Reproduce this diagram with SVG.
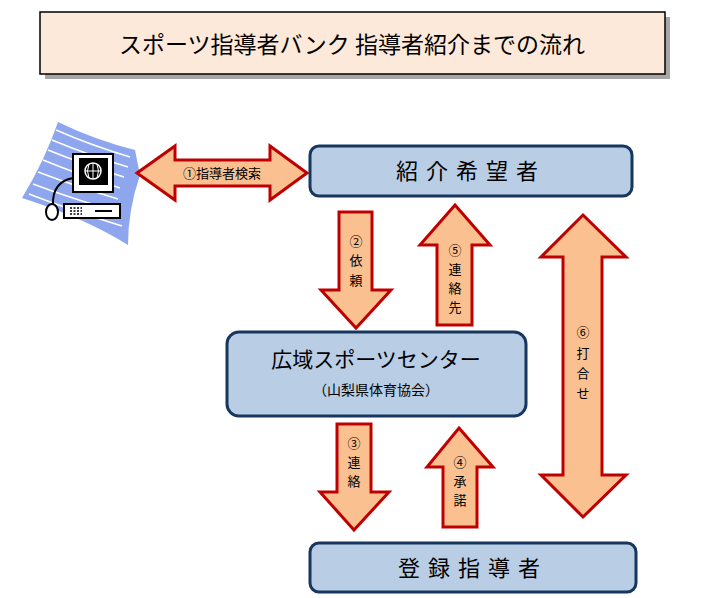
<svg xmlns="http://www.w3.org/2000/svg" width="710" height="598" viewBox="0 0 710 598">
<defs>
<style>
.box{fill:#b9cde5;stroke:#17375e;stroke-width:3}
.arr{fill:#fac090;stroke:#c00000;stroke-width:3;stroke-linejoin:miter}
text{font-family:"Noto Sans CJK JP","Noto Sans CJK SC",sans-serif;fill:#000}
.lbl{font-size:13px;text-anchor:middle}
.big{font-size:22px;text-anchor:middle}
</style>
</defs>
<rect width="710" height="598" fill="#fff"/>
<g id="title">
<rect x="45" y="17" width="625" height="62" fill="#a6a6a6"/>
<rect x="40" y="12" width="625" height="62" fill="#fde9d9" stroke="#000" stroke-width="1.5"/>
<text x="352" y="53" font-size="23" text-anchor="middle">スポーツ指導者バンク 指導者紹介までの流れ</text>
</g>
<g id="computer">
<path d="M58,122 Q95,140 135,150 L140,175 Q128,210 128,245 Q85,218 22,198 Q45,160 58,122Z" fill="#8ea6ee"/>
<g stroke="#fff" stroke-width="1.5" fill="none">
<path d="M56,130 Q90,145 130,157"/><path d="M52,140 Q88,155 128,167"/><path d="M48,150 Q85,165 124,177"/><path d="M43,160 Q80,175 120,188"/><path d="M38,172 Q75,186 118,199"/><path d="M33,184 Q70,198 118,212"/><path d="M29,194 Q70,210 122,226"/>
</g>
<rect x="73" y="154" width="40" height="38" fill="#fff" stroke="#000" stroke-width="2"/>
<rect x="79" y="158" width="29" height="27" fill="#000"/>
<circle cx="93" cy="171" r="8" fill="none" stroke="#fff" stroke-width="1.5"/>
<path d="M85,171 H101 M93,163 V179 M89,164 Q86,171 89,178 M97,164 Q100,171 97,178" stroke="#fff" stroke-width="1" fill="none"/>
<rect x="64" y="204" width="56" height="14" fill="#fff" stroke="#000" stroke-width="2"/>
<path d="M95,211 H112" stroke="#000" stroke-width="2"/>
<path d="M70,208 H82 M70,211 H82 M70,214 H82" stroke="#000" stroke-width="1.5" stroke-dasharray="2,1.5"/>
<path d="M73,178 Q52,182 53,205" fill="none" stroke="#000" stroke-width="2"/>
<ellipse cx="52" cy="212" rx="6" ry="8" fill="#fff" stroke="#000" stroke-width="2"/>
</g>
<g id="connectors">
<path class="arr" d="M137,173 L175,146 L175,160 L270,160 L270,146 L307,173 L270,200 L270,186 L175,186 L175,200Z"/>
<text class="lbl" x="222" y="178" font-size="14">①指導者検索</text>
<path class="arr" d="M339,212 H372 V290 H391 L356,328 L321,290 H339Z"/>
<text class="lbl" x="356" y="246">②</text><text class="lbl" x="356" y="265">依</text><text class="lbl" x="356" y="285">頼</text>
<path class="arr" d="M455,205 L490,245 H472 V325 H437 V245 H420Z"/>
<text class="lbl" x="455" y="255">⑤</text><text class="lbl" x="455" y="274">連</text><text class="lbl" x="455" y="293">絡</text><text class="lbl" x="455" y="312">先</text>
<path class="arr" d="M583,215 L626,257 H602 V475 H626 L583,517 L541,475 H563 V257 H541Z"/>
<text class="lbl" x="583" y="337">⑥</text><text class="lbl" x="583" y="358">打</text><text class="lbl" x="583" y="378">合</text><text class="lbl" x="583" y="398">せ</text>
<path class="arr" d="M337,424 H371 V492 H389 L354,530 L320,492 H337Z"/>
<text class="lbl" x="354" y="448">③</text><text class="lbl" x="354" y="467">連</text><text class="lbl" x="354" y="486">絡</text>
<path class="arr" d="M459,428 L493,467 H477 V527 H443 V467 H427Z"/>
<text class="lbl" x="460" y="467">④</text><text class="lbl" x="460" y="486">承</text><text class="lbl" x="460" y="505">諾</text>
</g>
<g id="requester">
<rect class="box" x="310" y="146" width="322" height="50" rx="9"/>
<text class="big" x="471" y="179" letter-spacing="8">紹介希望者</text>
</g>
<g id="center">
<rect class="box" x="227" y="332" width="299" height="84" rx="12"/>
<text x="376" y="367" font-size="21" text-anchor="middle">広域スポーツセンター</text>
<text x="376" y="395" font-size="14" text-anchor="middle">（山梨県体育協会）</text>
</g>
<g id="instructor">
<rect class="box" x="310" y="543" width="326" height="49" rx="9"/>
<text class="big" x="473" y="576" letter-spacing="8">登録指導者</text>
</g>
</svg>
